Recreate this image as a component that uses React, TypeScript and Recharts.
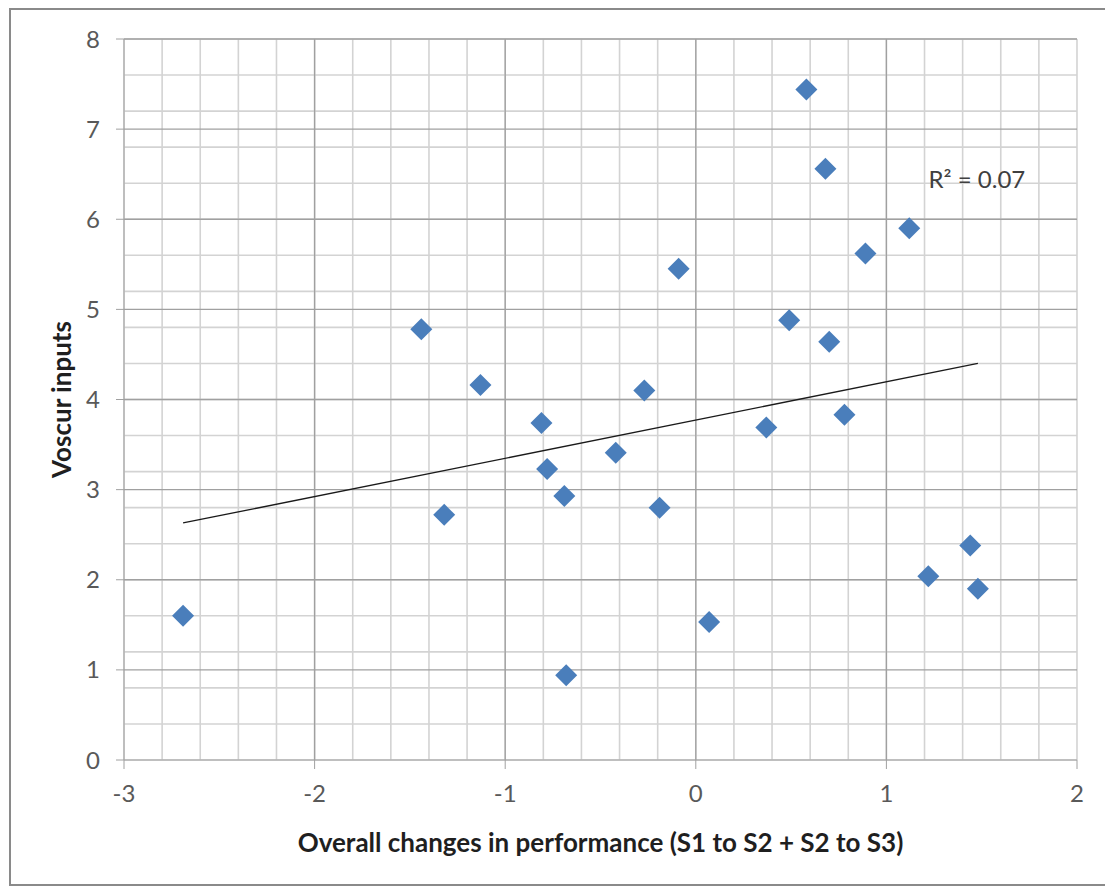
import {
  ScatterChart,
  Scatter,
  XAxis,
  YAxis,
  CartesianGrid,
  ReferenceLine,
  ReferenceDot,
} from "recharts";

// Overall change in performance (S1 to S2 + S2 to S3) per respondent
const perfChange = [
  -2.69, -1.44, -1.32, -1.13, -0.81, -0.78, -0.69, -0.68, -0.42, -0.27, -0.19, -0.09,
  0.07, 0.37, 0.58, 0.49, 0.68, 0.7, 0.78, 0.89, 1.12, 1.22, 1.44, 1.48,
];

// Voscur inputs for the same respondents
const voscurInputs = [
  1.6, 4.78, 2.72, 4.16, 3.74, 3.23, 2.93, 0.94, 3.41, 4.1, 2.8, 5.45,
  1.53, 3.69, 7.44, 4.88, 6.56, 4.64, 3.83, 5.62, 5.9, 2.04, 2.38, 1.9,
];

// Linear trendline end points and its fit
const trendX = [-2.69, 1.48];
const trendY = [2.63, 4.4];
const rSquared = "R² = 0.07";

const xTicks = [-3, -2, -1, 0, 1, 2];
const yTicks = [0, 1, 2, 3, 4, 5, 6, 7, 8];

const FONT = "Lato, 'Open Sans', sans-serif";
const BLUE = "#4a7ebb";

// minor gridlines every 0.2
const minorX: number[] = [];
for (let i = -15; i <= 10; i++) minorX.push(i / 5);
const minorY: number[] = [];
for (let i = 0; i <= 40; i++) minorY.push(i / 5);

const points = perfChange.map((x, i) => ({ x, y: voscurInputs[i] }));

function Diamond(props: any) {
  const { cx, cy } = props;
  const r = 11;
  return (
    <polygon
      points={`${cx},${cy - r} ${cx + r},${cy} ${cx},${cy + r} ${cx - r},${cy}`}
      fill={BLUE}
    />
  );
}

export default function App() {
  return (
    <div style={{ position: "absolute", left: 0, top: 0, width: 1105, height: 888, background: "#fff" }}>
      <div
        style={{
          position: "absolute",
          left: 9,
          top: 8,
          width: 1110,
          height: 878,
          border: "2px solid #8a8a8a",
          boxSizing: "border-box",
        }}
      />
      <div style={{ position: "absolute", left: 0, top: 0 }}>
        <ScatterChart
          width={1105}
          height={888}
          margin={{ top: 39, right: 28, bottom: 0, left: 0 }}
        >
          <CartesianGrid
            horizontalValues={minorY}
            verticalValues={minorX}
            stroke="#d3d3d3"
            strokeWidth={1.6}
          />
          <CartesianGrid
            horizontalValues={yTicks.slice(1)}
            verticalValues={[-2, -1, 0, 1]}
            stroke="#a0a0a0"
            strokeWidth={1.3}
          />
          <XAxis
            type="number"
            dataKey="x"
            domain={[-3, 2]}
            ticks={xTicks}
            height={128}
            tickSize={9}
            tickMargin={16}
            stroke="#a0a0a0"
            tick={{ fill: "#595959", fontSize: 24, fontFamily: FONT }}
            label={{
              value: "Overall changes in performance (S1 to S2 + S2 to S3)",
              position: "insideBottom",
              offset: 36,
              fill: "#1f1f1f",
              fontSize: 26,
              fontWeight: 700,
              fontFamily: FONT,
            }}
          />
          <YAxis
            type="number"
            dataKey="y"
            domain={[0, 8]}
            ticks={yTicks}
            width={124}
            tickSize={8}
            tickMargin={16}
            stroke="#a0a0a0"
            tick={{ fill: "#595959", fontSize: 24, fontFamily: FONT }}
            label={{
              value: "Voscur inputs",
              angle: -90,
              position: "insideLeft",
              offset: 62,
              fill: "#1f1f1f",
              fontSize: 26,
              fontWeight: 700,
              fontFamily: FONT,
              style: { textAnchor: "middle" },
            }}
          />
          <ReferenceLine
            segment={[
              { x: trendX[0], y: trendY[0] },
              { x: trendX[1], y: trendY[1] },
            ]}
            stroke="#1a1a1a"
            strokeWidth={1.3}
          />
          <Scatter data={points} shape={Diamond} isAnimationActive={false} />
          <ReferenceDot
            x={1.475}
            y={6.44}
            r={1}
            fill="none"
            stroke="none"
            label={{
              value: rSquared,
              position: "center",
              fill: "#404040",
              fontSize: 24,
              fontFamily: FONT,
            }}
          />
        </ScatterChart>
      </div>
    </div>
  );
}
